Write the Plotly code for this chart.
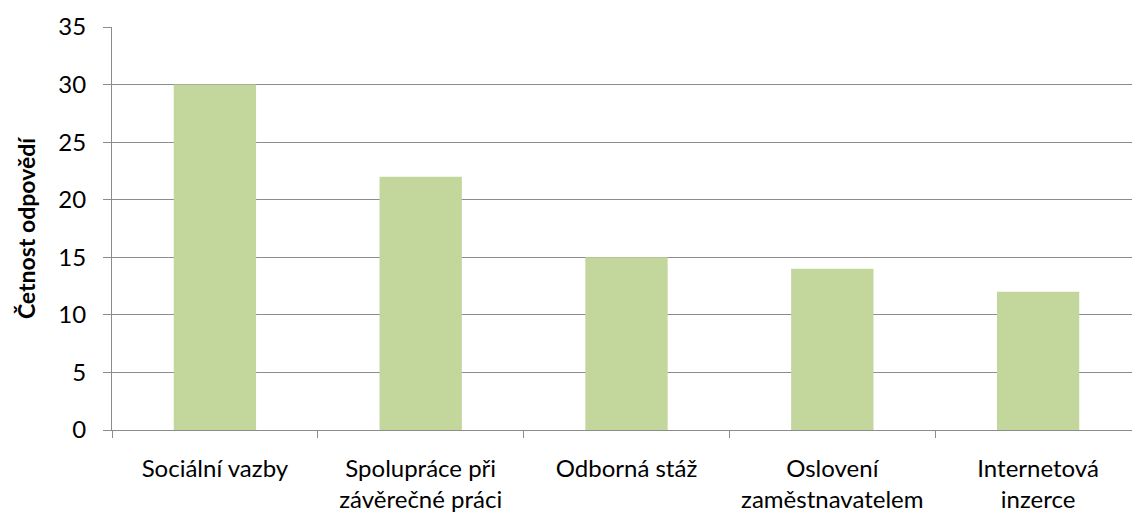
import plotly.graph_objects as go

categories = ["Sociální vazby", "Spolupráce při<br>závěrečné práci", "Odborná stáž",
              "Oslovení<br>zaměstnavatelem", "Internetová<br>inzerce"]
values = [30, 22, 15, 14, 12]
y_ticks = [0, 5, 10, 15, 20, 25, 30, 35]

fig = go.Figure(go.Bar(x=categories, y=values, marker=dict(color="#C3D69B", line=dict(width=0)),
                       width=0.40))

font_family = "Lato, Open Sans, sans-serif"
fs = 24
fig.update_layout(
    width=1140, height=514,
    margin=dict(l=104, r=7, t=19, b=92, autoexpand=False),
    plot_bgcolor="white", paper_bgcolor="white",
    showlegend=False,
    font=dict(family=font_family, size=fs, color="black"),
)
fig.update_xaxes(
    showline=True, linecolor="#8C8C8C", linewidth=1,
    ticks="outside", tickson="boundaries", ticklen=7, tickcolor="#8C8C8C",
    showgrid=False, tickfont=dict(size=fs, color="black"),
    ticklabelstandoff=17,
)
fig.update_yaxes(
    range=[0, 35], tickvals=y_ticks, showline=True, linecolor="#8C8C8C", linewidth=1,
    ticks="outside", ticklen=8, tickcolor="#8C8C8C",
    showgrid=True, gridcolor="#8C8C8C", gridwidth=1, zeroline=False,
    tickfont=dict(size=fs, color="black"),
    ticklabelstandoff=12,
    title=dict(text="<b>Četnost odpovědí</b>", font=dict(size=fs - 1, color="black"), standoff=16),
)
fig.write_html("out.html")
